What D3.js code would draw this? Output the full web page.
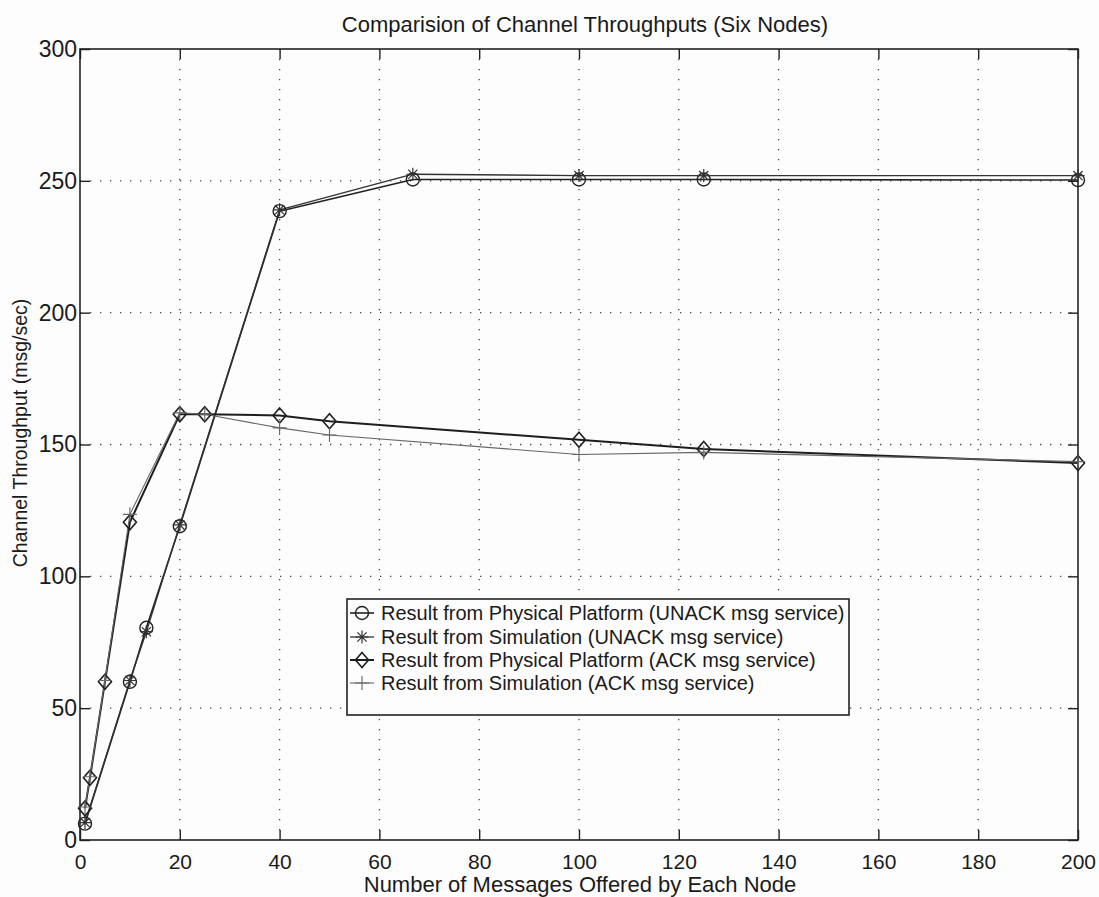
<!DOCTYPE html>
<html>
<head>
<meta charset="utf-8">
<script src="https://cdn.jsdelivr.net/npm/d3@7"></script>
<style>
html,body{margin:0;padding:0;background:#fdfdfd;}
svg{display:block;}
text{font-family:"Liberation Sans",Arial,Helvetica,sans-serif;fill:#1a1a1a;}
</style>
</head>
<body>
<svg id="chart" width="1099" height="897"></svg>
<script>
// ---- data ----
const title = "Comparision of Channel Throughputs (Six Nodes)";
const xLabel = "Number of Messages Offered by Each Node";
const yLabel = "Channel Throughput (msg/sec)";
const xTicks = [0, 20, 40, 60, 80, 100, 120, 140, 160, 180, 200];
const yTicks = [0, 50, 100, 150, 200, 250, 300];

const unackX = [1, 10, 13.3, 20, 40, 66.7, 100, 125, 200];
const unackPhys = [6.2, 60, 80.5, 119, 238.5, 250.5, 250.5, 250.5, 250.3];
const unackSim = [6.6, 60.5, 79, 119.5, 239, 252.5, 252, 252, 252];

const ackX = [1, 2, 5, 10, 20, 25, 40, 50, 100, 125, 200];
const ackPhys = [12, 23.6, 60, 120.5, 161.5, 161.5, 161, 158.8, 151.8, 148.3, 143];
const ackSim = [12.5, 24, 60.5, 123.5, 162, 161.5, 156.3, 153.6, 146.2, 147, 143.5];

const legendLabels = [
  "Result from Physical Platform (UNACK msg service)",
  "Result from Simulation (UNACK msg service)",
  "Result from Physical Platform (ACK msg service)",
  "Result from Simulation (ACK msg service)"
];

// ---- layout ----
const svg = d3.select("#chart");
const L = 80, R = 1078, T = 49, B = 840;
const x = d3.scaleLinear().domain([0, 200]).range([L, R]);
const y = d3.scaleLinear().domain([0, 300]).range([B, T]);

// markers
function markerPath(type) {
  if (type === "circle") {
    const r = 6.5;
    return `M${-r},0A${r},${r} 0 1,0 ${r},0A${r},${r} 0 1,0 ${-r},0Z`;
  }
  if (type === "star") {
    const s = 6.5, d = 4.6;
    return `M0,${-s}L0,${s}M${-s},0L${s},0M${-d},${-d}L${d},${d}M${-d},${d}L${d},${-d}`;
  }
  if (type === "diamond") {
    const w = 6.5, h = 7.5;
    return `M0,${-h}L${w},0L0,${h}L${-w},0Z`;
  }
  if (type === "plus") {
    const s = 7;
    return `M0,${-s}L0,${s}M${-s},0L${s},0`;
  }
}

const series = [
  {xs: unackX, ys: unackPhys, marker: "circle", color: "#222", width: 1.6, mw: 1.4},
  {xs: unackX, ys: unackSim, marker: "star", color: "#333", width: 1.3, mw: 1.2},
  {xs: ackX, ys: ackPhys, marker: "diamond", color: "#1e1e1e", width: 2.0, mw: 1.6},
  {xs: ackX, ys: ackSim, marker: "plus", color: "#666", width: 1.1, mw: 1.1}
];

// grid
const grid = svg.append("g");
grid.selectAll("line.gx").data(xTicks.slice(1, -1)).enter().append("line")
  .attr("x1", d => x(d)).attr("x2", d => x(d)).attr("y1", T).attr("y2", B)
  .attr("stroke", "#444").attr("stroke-width", 1.3).attr("stroke-dasharray", "1.3,8.7");
grid.selectAll("line.gy").data(yTicks.slice(1, -1)).enter().append("line")
  .attr("x1", L).attr("x2", R).attr("y1", d => y(d)).attr("y2", d => y(d))
  .attr("stroke", "#444").attr("stroke-width", 1.3).attr("stroke-dasharray", "1.3,8.7");

// axes (inward ticks on all four sides)
const axisStyle = g => {
  g.select(".domain").remove();
  g.selectAll(".tick line").attr("stroke", "#222").attr("stroke-width", 1.4);
};
svg.append("g").attr("transform", `translate(0,${B})`)
  .call(d3.axisBottom(x).tickValues(xTicks).tickSizeInner(-10).tickSizeOuter(0).tickPadding(14))
  .call(axisStyle)
  .selectAll("text").style("font-size", "21px").style("font-family", "Liberation Sans, Arial, sans-serif").attr("fill", "#1a1a1a");
svg.append("g").attr("transform", `translate(0,${T})`)
  .call(d3.axisTop(x).tickValues(xTicks).tickSizeInner(-10).tickSizeOuter(0).tickFormat(""))
  .call(axisStyle);
svg.append("g").attr("transform", `translate(${L},0)`)
  .call(d3.axisLeft(y).tickValues(yTicks).tickSizeInner(-10).tickSizeOuter(0).tickPadding(3))
  .call(axisStyle)
  .selectAll("text").style("font-size", "23px").style("font-family", "Liberation Sans, Arial, sans-serif").attr("fill", "#1a1a1a");
svg.append("g").attr("transform", `translate(${R},0)`)
  .call(d3.axisRight(y).tickValues(yTicks).tickSizeInner(-10).tickSizeOuter(0).tickFormat(""))
  .call(axisStyle);

// frame
svg.append("rect").attr("x", L).attr("y", T).attr("width", R - L).attr("height", B - T)
  .attr("fill", "none").attr("stroke", "#222").attr("stroke-width", 1.6);

// lines + markers
const line = d3.line().x(d => x(d[0])).y(d => y(d[1]));
series.forEach(s => {
  const pts = s.xs.map((v, i) => [v, s.ys[i]]);
  svg.append("path").datum(pts).attr("d", line)
    .attr("fill", "none").attr("stroke", s.color).attr("stroke-width", s.width)
    .attr("stroke-linejoin", "round");
});
series.forEach(s => {
  const pts = s.xs.map((v, i) => [v, s.ys[i]]);
  svg.append("g").selectAll("path").data(pts).enter().append("path")
    .attr("transform", d => `translate(${x(d[0])},${y(d[1])})`)
    .attr("d", markerPath(s.marker))
    .attr("fill", "none").attr("stroke", s.color).attr("stroke-width", s.mw);
});

// legend
const lg = svg.append("g");
lg.append("rect").attr("x", 347).attr("y", 599).attr("width", 502).attr("height", 116)
  .attr("fill", "#fdfdfd").attr("stroke", "#222").attr("stroke-width", 1.6);
const rowY = [613, 637, 660, 683];
series.forEach((s, i) => {
  lg.append("line").attr("x1", 350).attr("x2", 374).attr("y1", rowY[i]).attr("y2", rowY[i])
    .attr("stroke", s.color).attr("stroke-width", s.width);
  lg.append("path").attr("transform", `translate(362,${rowY[i]})`).attr("d", markerPath(s.marker))
    .attr("fill", "none").attr("stroke", s.color).attr("stroke-width", s.mw);
  lg.append("text").attr("x", 381).attr("y", rowY[i]).attr("dy", "0.36em")
    .style("font-size", "20px").text(legendLabels[i]);
});

// titles
svg.append("text").attr("x", 585).attr("y", 32).attr("text-anchor", "middle")
  .style("font-size", "22px").text(title);
svg.append("text").attr("x", 580).attr("y", 892).attr("text-anchor", "middle")
  .style("font-size", "22px").text(xLabel);
svg.append("text").attr("transform", "translate(27,433) rotate(-90)").attr("text-anchor", "middle")
  .style("font-size", "19.5px").text(yLabel);
</script>
</body>
</html>
